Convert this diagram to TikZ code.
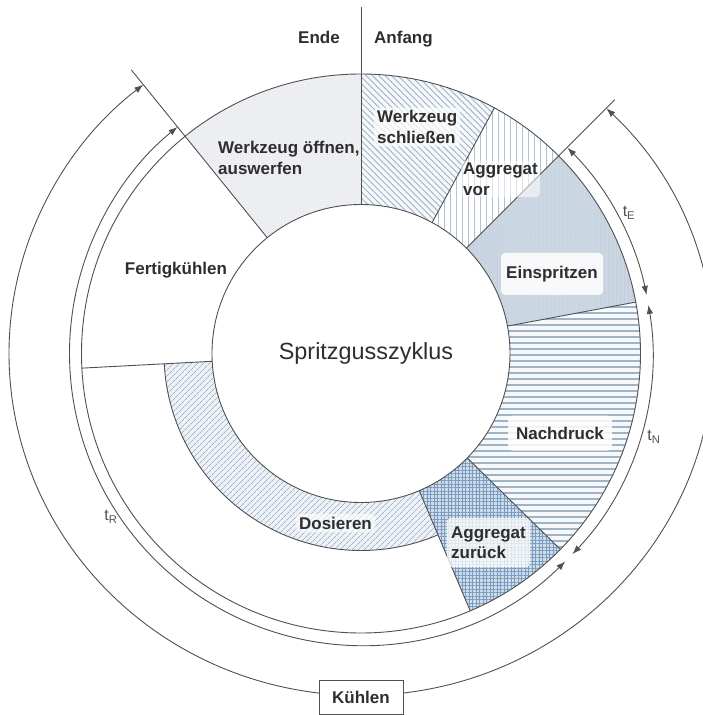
\documentclass[tikz,border=0pt]{standalone}
\usepackage{fontspec}
\setmainfont{Liberation Sans}
\usepackage{xcolor}
\usepackage{tikz}
\usetikzlibrary{patterns.meta}
\usetikzlibrary{arrows.meta}
\definecolor{linegray}{HTML}{505050}
\definecolor{textgray}{HTML}{2E2E2E}
\definecolor{hatchblue}{HTML}{9FB3C8}
\definecolor{vorblue}{HTML}{B3C2D3}
\definecolor{dotgray}{HTML}{C4CBD5}
\definecolor{oeffnenbg}{HTML}{EEF0F3}
\definecolor{einbg}{HTML}{C9D5E1}
\definecolor{einline}{HTML}{B6C4D4}
\definecolor{nachbg}{HTML}{F6F8FA}
\definecolor{zurbg}{HTML}{CFDDEB}
\definecolor{gridblue}{HTML}{7C9CBF}
\definecolor{dosbg}{HTML}{EEF2F7}
\tikzset{
  ringline/.style={draw=linegray, line width=0.9pt},
  massarrow/.style={draw=linegray, line width=0.9pt,
    {Latex[length=9pt,width=6.5pt]}-{Latex[length=9pt,width=6.5pt]}},
  oeffnen/.style={preaction={fill=oeffnenbg}, pattern={Dots[distance=3pt,radius=0.45pt]}, pattern color=dotgray},
  schliessen/.style={preaction={fill=nachbg}, pattern={Lines[angle=-45,distance=4.5pt,line width=0.9pt]}, pattern color=hatchblue},
  vor/.style={pattern={Lines[angle=90,distance=6pt,line width=0.9pt]}, pattern color=vorblue},
  einspritz/.style={preaction={fill=einbg}, pattern={Lines[angle=90,distance=4pt,line width=0.6pt]}, pattern color=einline},
  nach/.style={preaction={fill=nachbg}, pattern={Lines[angle=0,distance=6pt,line width=1.4pt]}, pattern color=hatchblue},
  zurueck/.style={preaction={fill=zurbg}, pattern={Hatch[distance=3.5pt,line width=0.5pt]}, pattern color=gridblue},
  dosier/.style={preaction={fill=dosbg}, pattern={Lines[angle=45,distance=4pt,line width=0.8pt]}, pattern color=hatchblue},
  lbl/.style={font=\fontsize{17}{20.5}\selectfont\bfseries, text=textgray, inner sep=0pt},
  lblbox/.style={lbl, fill=white, fill opacity=0.85, text opacity=1, rounded corners=4pt},
  zeit/.style={font=\fontsize{16}{19}\selectfont, text=linegray, inner sep=0pt}
}
% ring sector: style, start angle, end angle, inner radius, outer radius
\newcommand{\ringsektor}[5]{%
  \path[#1] (#2:#4) arc[start angle=#2, end angle=#3, radius=#4]
    -- (#3:#5) arc[start angle=#3, end angle=#2, radius=#5] -- cycle;}

\begin{document}
\begin{tikzpicture}[x=1pt, y=1pt]
  \useasboundingbox (-361,-361.5) rectangle (341,353.5);

  % phases
  \ringsektor{oeffnen}{90}{129}{149}{279.5}
  \ringsektor{schliessen}{61.5}{90}{149}{279.5}
  \ringsektor{vor}{45}{61.5}{149}{279.5}
  \ringsektor{einspritz}{10.6}{45}{149}{279.5}
  \ringsektor{nach}{-44.5}{10.6}{149}{279.5}
  \ringsektor{zurueck}{-67}{-44.5}{149}{279.5}
  \ringsektor{dosier}{183}{293}{149}{197}

  % outlines
  \draw[ringline] (0,0) circle[radius=149];
  \draw[ringline] (0,0) circle[radius=279.5];
  \draw[ringline] (183:197) arc[start angle=183, end angle=293, radius=197];
  \foreach \w in {61.5,10.6,-44.5,-67,183}
    \draw[ringline] (\w:149) -- (\w:279.5);
  \draw[ringline] (90:149) -- (0,346.5);
  \draw[ringline] (45:149) -- (45:359);
  \draw[ringline] (129:149) -- (129:365);

  % times
  \draw[massarrow] (44.9:291.5) arc[start angle=44.9, end angle=11.6, radius=291.5];
  \draw[massarrow] (9.6:291.5) arc[start angle=9.6, end angle=-43.5, radius=291.5];
  \draw[massarrow] (-45.5:291.5) arc[start angle=-45.5, end angle=-231, radius=291.5];
  \draw[massarrow] (45.8:352 and 342) arc[start angle=45.8, end angle=-231.8, x radius=352, y radius=342];

  \node[lbl, anchor=base east] (ende) at (-21,309.5) {Ende};
  \node[lbl, anchor=base west] (anfang) at (13,309.5) {Anfang};
  \node[lbl, align=left, anchor=west] (oeffnentxt) at (-143,195.5) {Werkzeug öffnen,\\auswerfen};
  \node[lblbox, fill opacity=0.7, align=left, anchor=west, inner sep=3pt] (schliessentxt) at (13,226.5) {Werkzeug\\schließen};
  \node[lblbox, fill opacity=0.55, align=left, anchor=west, inner sep=2pt] (vortxt) at (100,174.5) {Aggregat\\vor};
  \node[lblbox, minimum width=102, minimum height=42] (eintxt) at (191,79.5) {Einspritzen};
  \node[lblbox, minimum width=104, minimum height=35] (nachtxt) at (199,-79.5) {Nachdruck};
  \node[lblbox, fill opacity=0.75, align=left, minimum width=83, minimum height=49] (zurtxt) at (127.5,-189) {Aggregat\\zurück};
  \node[lblbox, fill opacity=0.6, inner sep=3pt] (dostxt) at (-25.5,-169.5) {Dosieren};
  \node[lbl] (fertigtxt) at (-185,83.5) {Fertigkühlen};
  \node[font=\fontsize{23.4}{28}\selectfont, text=textgray, inner sep=0pt] (zyklus) at (5,0.5) {Spritzgusszyklus};

  \node[zeit] (tE) at (268,140.5) {t\textsubscript{E}};
  \node[zeit] (tN) at (293,-83.5) {t\textsubscript{N}};
  \node[zeit] (tR) at (-250,-163.5) {t\textsubscript{R}};
  \node[lbl, draw=linegray, line width=0.9pt, fill=white, minimum width=84, minimum height=34] (kuehlen) at (0,-344) {Kühlen};
\end{tikzpicture}
\end{document}
